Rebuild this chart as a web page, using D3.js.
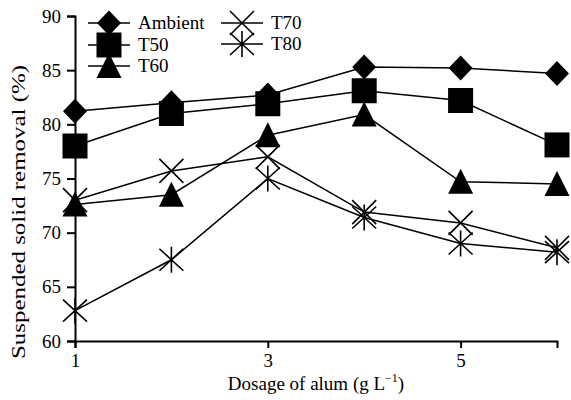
<!DOCTYPE html>
<html>
<head>
<meta charset="utf-8">
<script src="https://cdn.jsdelivr.net/npm/d3@7"></script>
<style>
body { margin: 0; background: #fff; }
text { font-family: "Liberation Serif", "Times New Roman", serif; }
</style>
</head>
<body>
<div id="canvas"></div>
<script>
const width = 571;
const height = 400;

// data
const dosage = [1, 2, 3, 4, 5, 6];
const ambient = [81.2, 82.0, 82.7, 85.3, 85.2, 84.7];
const t50 = [78.0, 81.0, 81.9, 83.1, 82.2, 78.1];
const t60 = [72.6, 73.5, 79.0, 80.9, 74.7, 74.5];
const t70 = [73.0, 75.7, 77.0, 71.9, 70.9, 68.6];
const t80 = [62.8, 67.5, 75.0, 71.4, 69.0, 68.2];
const xTicks = [1, 3, 5];
const yTicks = [60, 65, 70, 75, 80, 85, 90];

const series = [
  {name: 'Ambient', values: ambient, shape: 'diamond'},
  {name: 'T50', values: t50, shape: 'square'},
  {name: 'T60', values: t60, shape: 'triangle'},
  {name: 'T70', values: t70, shape: 'cross'},
  {name: 'T80', values: t80, shape: 'asterisk'}
];

const margin = {left: 75, top: 16, right: 14, bottom: 59};

const svg = d3.select('#canvas').append('svg')
  .attr('width', width)
  .attr('height', height)

const xScale = d3.scaleLinear().domain([1, 6]).range([margin.left, width - margin.right]);
const yScale = d3.scaleLinear().domain([60, 90]).range([height - margin.bottom, margin.top]);

const xAxis = d3.axisBottom(xScale).tickValues(xTicks).tickSize(7).tickPadding(6).tickFormat(d3.format('d'));
const yAxis = d3.axisLeft(yScale).tickValues(yTicks).tickSize(8).tickPadding(6);

const gx = svg.append('g')
  .attr('transform', `translate(0,${yScale(60)})`)
  .call(xAxis);
const gy = svg.append('g')
  .attr('transform', `translate(${xScale(1)},0)`)
  .call(yAxis);

[gx, gy].forEach(g => {
  g.select('.domain').attr('stroke', '#000').attr('stroke-width', 2);
  g.selectAll('.tick line').attr('stroke', '#000').attr('stroke-width', 2);
  g.selectAll('.tick text').attr('font-size', 19).attr('fill', '#000')
    .style('font-family', '"Liberation Serif", serif');
});

// marker drawing
function drawMarker(g, shape, x, y) {
  if (shape === 'diamond') {
    g.append('path').attr('d', `M${x},${y-12.5}L${x+12},${y}L${x},${y+12.5}L${x-12},${y}Z`).attr('fill', '#000');
  } else if (shape === 'square') {
    g.append('rect').attr('x', x - 12.5).attr('y', y - 12.5).attr('width', 25).attr('height', 25).attr('fill', '#000');
  } else if (shape === 'triangle') {
    g.append('path').attr('d', `M${x},${y-13}L${x+12.5},${y+12}L${x-12.5},${y+12}Z`).attr('fill', '#000');
  } else if (shape === 'cross') {
    g.append('path').attr('d', `M${x-12},${y-12}L${x+12},${y+12}M${x-12},${y+12}L${x+12},${y-12}`)
      .attr('stroke', '#000').attr('stroke-width', 1.6);
  } else if (shape === 'asterisk') {
    g.append('path').attr('d', `M${x-12},${y-11}L${x+12},${y+11}M${x-12},${y+11}L${x+12},${y-11}M${x},${y-13}L${x},${y+13}`)
      .attr('stroke', '#000').attr('stroke-width', 1.6);
  }
}

const line = d3.line()
  .x((d, i) => xScale(dosage[i]))
  .y(d => yScale(d));

const plot = svg.append('g');
series.forEach(s => {
  plot.append('path')
    .attr('d', line(s.values))
    .attr('fill', 'none')
    .attr('stroke', '#000')
    .attr('stroke-width', 1.5);
});
series.forEach(s => {
  s.values.forEach((v, i) => drawMarker(plot, s.shape, xScale(dosage[i]), yScale(v)));
});

// legend
const legendPos = [
  {x: 88, y: 23}, {x: 88, y: 45}, {x: 88, y: 66},
  {x: 221, y: 23}, {x: 221, y: 44}
];
const legend = svg.append('g');
series.forEach((s, i) => {
  const p = legendPos[i];
  legend.append('line')
    .attr('x1', p.x).attr('x2', p.x + 42)
    .attr('y1', p.y).attr('y2', p.y)
    .attr('stroke', '#000').attr('stroke-width', 1.5);
  drawMarker(legend, s.shape, p.x + 21, p.y);
  legend.append('text')
    .attr('x', p.x + 50).attr('y', p.y + 6)
    .attr('font-size', 19)
    .text(s.name);
});

// axis titles
svg.append('text')
  .attr('x', 316).attr('y', 390)
  .attr('text-anchor', 'middle')
  .attr('font-size', 19)
  .html('Dosage of alum (g L<tspan dy="-8" font-size="12">\u22121</tspan><tspan dy="8">)</tspan>');

svg.append('text')
  .attr('transform', `translate(25,212) rotate(-90)`)
  .attr('text-anchor', 'middle')
  .attr('font-size', 18)
  .attr('textLength', 294)
  .attr('lengthAdjust', 'spacingAndGlyphs')
  .text('Suspended solid removal (%)');
</script>
</body>
</html>
